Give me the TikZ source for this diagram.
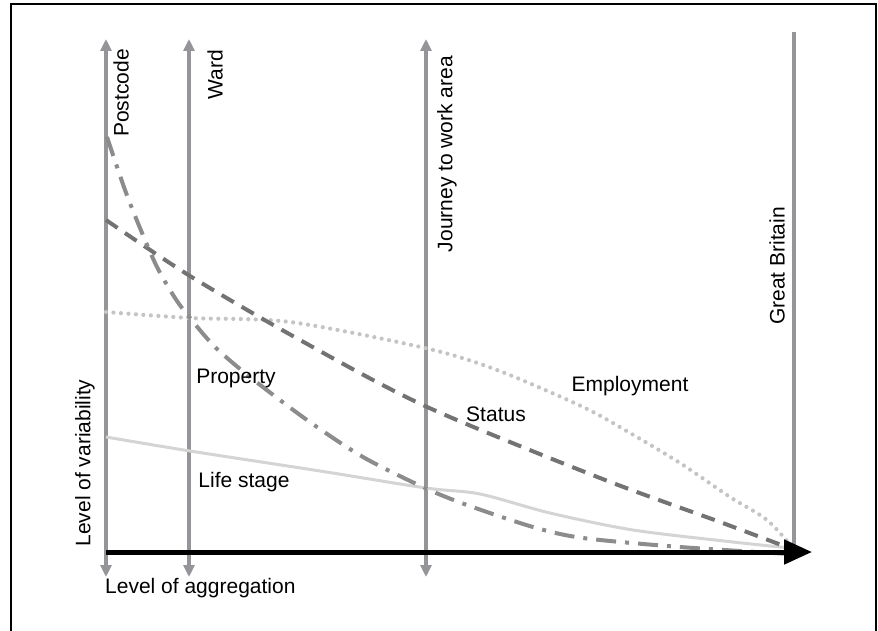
\documentclass[tikz,border=0pt]{standalone}
\usepackage{fontspec}
\setmainfont{Liberation Sans}
\usetikzlibrary{arrows.meta}

\definecolor{axisgray}{HTML}{939598}
\definecolor{statusgray}{HTML}{737373}
\definecolor{propgray}{HTML}{8C8C8C}
\definecolor{empgray}{HTML}{C4C4C4}
\definecolor{lifegray}{HTML}{D4D4D4}

\begin{document}
\begin{tikzpicture}[
    x=1pt, y=-1pt,
    txt/.style={font=\fontsize{21}{25}\selectfont, inner sep=0pt},
    vtxt/.style={txt, rotate=90},
    level/.style={draw=axisgray, line width=4pt, >={Triangle[length=12pt,width=11pt]}},
    mainaxis/.style={draw=black, line width=5pt, -{Triangle[length=28pt,width=24pt]}},
    status/.style={draw=statusgray, line width=4pt, dash pattern=on 14pt off 9pt},
    property/.style={draw=propgray, line width=4pt, dash pattern=on 20pt off 9pt on 4pt off 9pt},
    employment/.style={draw=empgray, line width=4.2pt, line cap=round, dash pattern=on 0pt off 7.5pt},
    lifestage/.style={draw=lifegray, line width=3pt}
]
    \useasboundingbox (0,0) rectangle (878,631);
    % frame
    \draw[line width=2pt] (11,640) -- (11,4) -- (876,4) -- (876,640);

    % level axes
    \coordinate (pc top) at (106,39);
    \coordinate (pc bot) at (106,577);
    \coordinate (wd top) at (189,39);
    \coordinate (wd bot) at (189,577);
    \coordinate (jw top) at (426,39);
    \coordinate (jw bot) at (426,577);
    \coordinate (gb top) at (794,32);
    \coordinate (gb bot) at (794,552);
    \draw[level, <->] (pc bot) -- (pc top);
    \draw[level, <->] (wd bot) -- (wd top);
    \draw[level, <->] (jw bot) -- (jw top);
    \draw[level] (gb bot) -- (gb top);

    \node[vtxt] (postcode) at (121,93) {Postcode};
    \node[vtxt] (ward) at (215,75) {Ward};
    \node[vtxt] (jtw) at (447,154) {Journey to work area};
    \node[vtxt] (gb) at (777,266) {Great Britain};

    % curves
    \draw[employment] plot[smooth] coordinates {(106,312) (190,318) (290,322) (425,348) (497,370) (583,407) (630,433) (680,463) (730,497) (767,520) (793,548)};
    \draw[lifestage] plot[smooth] coordinates {(106,437) (190,451) (320,471) (426,488) (480,494) (550,513) (633,530) (733,542) (790,548)};
    \draw[status] plot[smooth] coordinates {(106,220) (190,276) (300,340) (425,406) (600,478) (720,522) (792,549)};
    \draw[property] plot[smooth] coordinates {(107,137) (125,190) (140,228) (157,267) (175,298) (190,318) (215,347) (250,377) (307,420) (363,457) (425,488) (467,505) (533,527) (583,538) (680,547) (790,554)};

    \node[txt] (property label) at (236,378) {Property};
    \node[txt] (status label) at (496,414) {Status};
    \node[txt] (employment label) at (630,386) {Employment};
    \node[txt] (lifestage label) at (244,482) {Life stage};

    % main axis
    \coordinate (origin) at (106,552);
    \coordinate (end) at (812,552);
    \draw[mainaxis] (origin) -- (end);

    \node[vtxt] (variability) at (85,463) {Level of variability};
    \node[txt, anchor=west] (aggregation) at (105,588) {Level of aggregation};
\end{tikzpicture}
\end{document}
